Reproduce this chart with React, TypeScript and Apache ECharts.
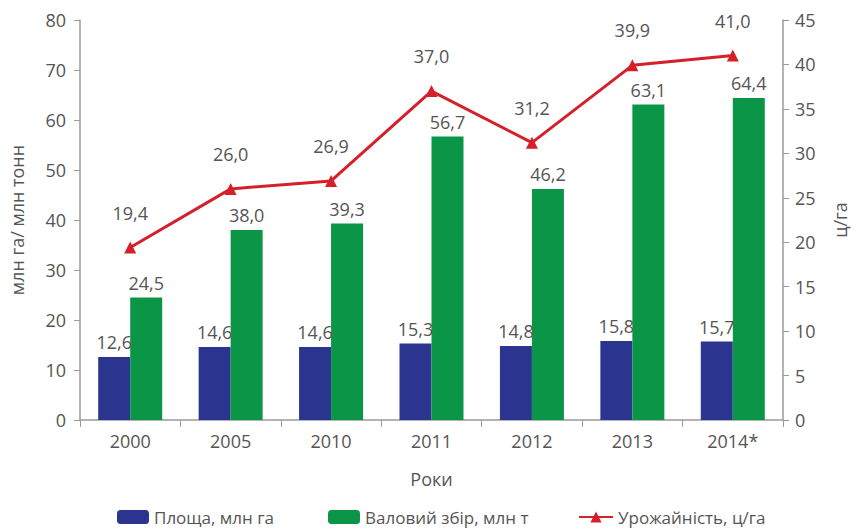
import React, { useEffect, useRef } from "react";
import * as echarts from "echarts";

const categories = ["2000", "2005", "2010", "2011", "2012", "2013", "2014*"];
const areaValues = [12.6, 14.6, 14.6, 15.3, 14.8, 15.8, 15.7];
const harvestValues = [24.5, 38.0, 39.3, 56.7, 46.2, 63.1, 64.4];
const yieldValues = [19.4, 26.0, 26.9, 37.0, 31.2, 39.9, 41.0];

const FONT = "'Open Sans', 'Noto Sans', sans-serif";
const GRAY = "#555555";
const AXIS = "#9a9a9a";
const fmt = (v: number) => v.toFixed(1).replace(".", ",");

export default function App() {
  const ref = useRef<HTMLDivElement>(null);
  useEffect(() => {
    if (!ref.current) return;
    const chart = echarts.init(ref.current, undefined, { renderer: "svg" });
    const labelStyle = { color: GRAY, fontSize: 18, fontFamily: FONT };
    const legendText = { color: GRAY, fontSize: 17, fontFamily: FONT, lineHeight: 18 };
    const legendBase = { top: 508, padding: 0, itemHeight: 14, textStyle: legendText };
    chart.setOption({
      animation: false,
      backgroundColor: "#ffffff",
      textStyle: { fontFamily: FONT },
      grid: { left: 74, right: 62, top: 20, bottom: 111 },
      legend: [
        { ...legendBase, data: ["Площа, млн га"], left: 117, itemWidth: 32 },
        { ...legendBase, data: ["Валовий збір, млн т"], left: 328, itemWidth: 32 },
        { ...legendBase, data: ["Урожайність, ц/га"], left: 578, itemWidth: 34 },
      ],
      xAxis: {
        type: "category",
        data: categories,
        name: "Роки",
        nameLocation: "middle",
        nameGap: 50,
        nameTextStyle: labelStyle,
        axisLine: { lineStyle: { color: AXIS, width: 1.5 } },
        axisTick: { show: true, length: 7, lineStyle: { color: AXIS } },
        axisLabel: { ...labelStyle, margin: 12 },
      },
      yAxis: [
        {
          type: "value",
          min: 0,
          max: 80,
          interval: 10,
          name: "млн га/ млн тонн",
          nameLocation: "middle",
          nameRotate: 90,
          nameGap: 54,
          nameTextStyle: labelStyle,
          axisLine: { show: true, lineStyle: { color: AXIS, width: 1.5 } },
          axisTick: { show: true, length: 6, lineStyle: { color: AXIS } },
          axisLabel: { ...labelStyle, margin: 14 },
          splitLine: { show: false },
        },
        {
          type: "value",
          min: 0,
          max: 45,
          interval: 5,
          position: "right",
          name: "ц/га",
          nameLocation: "middle",
          nameRotate: 90,
          nameGap: 48,
          nameTextStyle: labelStyle,
          axisLine: { show: true, lineStyle: { color: AXIS, width: 1.5 } },
          axisTick: { show: true, length: 6, lineStyle: { color: AXIS } },
          axisLabel: { ...labelStyle, margin: 12 },
          splitLine: { show: false },
        },
      ],
      series: [
        {
          name: "Площа, млн га",
          type: "bar",
          data: areaValues,
          barWidth: 32,
          barGap: "0%",
          itemStyle: { color: "#2b3590" },
          label: {
            show: true,
            position: "top",
            distance: 6,
            formatter: (p: any) => fmt(p.value),
            ...labelStyle,
          },
        },
        {
          name: "Валовий збір, млн т",
          type: "bar",
          data: harvestValues,
          barWidth: 32,
          barGap: "0%",
          itemStyle: { color: "#0a9547" },
          label: {
            show: true,
            position: "top",
            distance: 6,
            formatter: (p: any) => fmt(p.value),
            ...labelStyle,
          },
        },
        {
          name: "Урожайність, ц/га",
          type: "line",
          yAxisIndex: 1,
          data: yieldValues,
          symbol: "triangle",
          symbolSize: 12,
          lineStyle: { color: "#d5202a", width: 3 },
          itemStyle: { color: "#d5202a" },
          label: {
            show: true,
            position: "top",
            distance: 20,
            formatter: (p: any) => fmt(p.value),
            ...labelStyle,
          },
          z: 5,
        },
      ],
    });
    return () => chart.dispose();
  }, []);
  return <div ref={ref} style={{ width: 857, height: 531, position: "absolute", left: 0, top: 0 }} />;
}
